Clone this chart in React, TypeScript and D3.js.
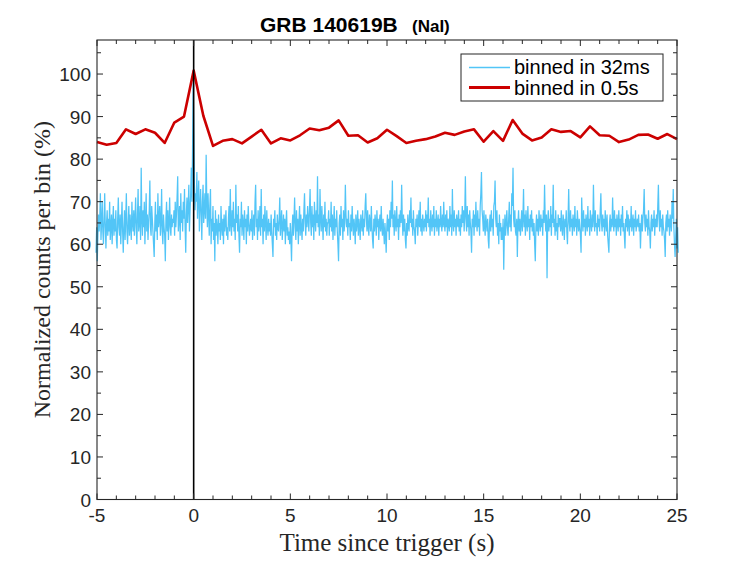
import React from "react";
import * as d3 from "d3";

const width = 747;
const height = 561;
const margin = { top: 40, left: 97, right: 70, bottom: 61.5 };

// tick labels
const xTickLabels = [-5, 0, 5, 10, 15, 20, 25];
const yTickLabels = [0, 10, 20, 30, 40, 50, 60, 70, 80, 90, 100];

// counts binned in 0.5 s, first bin at -5 s
const binned05 = [
  84.0, 83.4, 83.8, 87.0, 85.9, 87.0, 86.2, 83.8, 88.6, 90.0,
  100.8, 90.2, 83.1, 84.3, 84.7, 83.7, 85.3, 86.9, 83.7, 84.9,
  84.4, 85.6, 87.2, 86.8, 87.4, 89.1, 85.5, 85.6, 83.9, 84.9,
  86.9, 85.4, 83.8, 84.3, 84.7, 85.3, 86.2, 85.7, 86.5, 87.0,
  84.1, 86.6, 84.3, 89.2, 86.0, 84.4, 85.1, 87.0, 86.4, 86.6,
  85.1, 87.7, 85.6, 85.5, 84.0, 84.6, 85.7, 85.8, 84.8, 85.9,
  84.7,
];

// counts binned in 32 ms, first bin at -5.05 s
const binned32 = [
  58, 64, 56, 62, 67, 63, 66, 72, 61, 65, 70, 63, 60, 66, 72, 64, 59, 65, 68, 62, 66, 63, 70, 61, 64, 67, 60, 65, 69, 62, 66,
  63, 68, 61, 59, 66, 71, 64, 62, 67, 60, 65, 70, 63, 58, 64, 68, 61, 66, 72, 63, 60, 65, 69, 62, 67, 64, 61, 70, 65, 63, 68,
  62, 66, 71, 64, 60, 67, 73, 63, 65, 69, 61, 78, 66, 62, 68, 64, 70, 60, 66, 72, 63, 67, 61, 65, 68, 75, 64, 62, 69, 66, 63,
  60, 57, 65, 70, 63, 67, 61, 72, 64, 66, 69, 62, 65, 73, 63, 60, 67, 64, 62, 56, 66, 70, 63, 68, 61, 65, 71, 64, 62, 67, 64, 66,
  65, 68, 62, 70, 64, 67, 71, 76, 63, 66, 69, 61, 72, 65, 68, 63, 70, 66, 73, 64, 58, 67, 71, 65, 69, 74, 63, 68, 72, 78, 70,
  82, 98, 86, 74, 68, 72, 70, 77, 66, 71, 75, 63, 69, 73, 67, 61, 70, 74, 65, 68, 72, 66, 81, 70, 64, 72, 67, 62, 69, 73, 60,
  66, 63, 69, 61, 65, 56, 68, 62, 66, 64, 60, 67, 63, 65, 61, 69, 64, 62, 66, 60, 67, 63, 65, 68, 62, 64, 61, 66, 69, 63, 73,
  65, 62, 68, 64, 70, 63, 66, 61, 74, 65, 67, 63, 69, 62, 58, 66, 64, 70, 62, 67, 65, 61, 68, 64, 66, 60, 67, 63, 69, 65, 62, 64,
  66, 63, 68, 61, 65, 67, 62, 70, 74, 64, 66, 61, 68, 63, 65, 69, 62, 73, 64, 66, 60, 67, 63, 69, 65, 61, 68, 64, 62, 66, 63,
  65, 62, 67, 63, 60, 57, 66, 64, 68, 62, 65, 61, 67, 64, 63, 66, 71, 62, 65, 68, 61, 64, 67, 63, 66, 60, 65, 68, 62, 64, 61,
  63, 60, 65, 61, 56, 64, 67, 62, 66, 71, 64, 61, 68, 63, 66, 60, 65, 69, 62, 67, 64, 61, 66, 63, 68, 72, 65, 62, 67, 64, 69,
  66, 63, 68, 73, 65, 62, 69, 64, 67, 61, 70, 66, 63, 68, 65, 76, 64, 67, 62, 73, 66, 63, 69, 65, 61, 67, 64, 70, 63, 66, 62, 65,
  65, 68, 62, 66, 64, 70, 63, 67, 61, 65, 69, 62, 66, 64, 68, 63, 60, 56, 65, 67, 62, 69, 64, 66, 61, 68, 63, 65, 74, 67, 64,
  66, 62, 68, 64, 65, 61, 67, 63, 69, 65, 62, 66, 64, 60, 67, 63, 65, 68, 62, 66, 64, 61, 67, 65, 63, 68, 62, 66, 64, 69, 72,
  66, 63, 68, 64, 62, 67, 65, 63, 69, 64, 61, 59, 66, 63, 67, 65, 62, 68, 64, 66, 61, 65, 67, 63, 69, 64, 62, 66, 63, 60, 65,
  62, 58, 64, 67, 63, 66, 61, 68, 64, 70, 66, 75, 64, 67, 62, 68, 65, 63, 69, 64, 66, 61, 67, 64, 68, 65, 74, 66, 62, 67, 63, 66,
  61, 59, 65, 62, 67, 64, 63, 68, 65, 71, 64, 66, 62, 68, 64, 63, 60, 66, 64, 67, 62, 65, 68, 64, 70, 63, 66, 62, 67, 65, 63,
  66, 64, 68, 63, 67, 65, 71, 64, 66, 62, 68, 65, 63, 67, 64, 69, 62, 66, 64, 68, 63, 65, 67, 62, 66, 64, 69, 65, 63, 67, 64,
  70, 65, 63, 67, 64, 68, 62, 66, 65, 63, 69, 64, 67, 62, 73, 65, 63, 68, 64, 66, 62, 67, 65, 64, 68, 63, 66, 62, 67, 64, 69,
  65, 68, 63, 67, 76, 66, 63, 69, 64, 67, 62, 68, 65, 63, 58, 66, 64, 68, 62, 67, 64, 70, 65, 63, 68, 64, 66, 62, 69, 72, 77, 68,
  66, 63, 68, 64, 62, 67, 65, 63, 66, 61, 59, 65, 67, 63, 68, 64, 66, 62, 69, 70, 75, 66, 64, 68, 62, 65, 60, 67, 63, 65, 61,
  64, 61, 66, 54, 63, 67, 62, 65, 68, 64, 62, 66, 70, 64, 67, 63, 72, 69, 78, 66, 64, 68, 63, 62, 66, 57, 65, 68, 63, 66, 62,
  65, 68, 63, 66, 73, 64, 67, 62, 68, 65, 63, 69, 64, 66, 61, 67, 64, 68, 63, 66, 62, 65, 60, 56, 64, 67, 63, 66, 62, 68, 65,
  63, 67, 64, 66, 62, 68, 65, 74, 66, 63, 67, 52, 65, 68, 63, 66, 64, 69, 62, 67, 65, 74, 64, 66, 62, 68, 63, 65, 61, 67, 64, 66,
  66, 63, 68, 64, 62, 67, 65, 61, 66, 64, 68, 63, 60, 66, 73, 65, 63, 68, 64, 66, 62, 67, 65, 63, 69, 64, 66, 62, 68, 65, 63,
  66, 64, 62, 58, 71, 66, 63, 68, 64, 66, 62, 67, 65, 63, 69, 64, 66, 62, 68, 65, 63, 67, 64, 74, 66, 63, 68, 64, 65, 62, 67,
  64, 66, 63, 68, 72, 65, 63, 67, 64, 66, 62, 68, 65, 63, 67, 62, 60, 58, 65, 67, 63, 66, 64, 71, 65, 63, 68, 64, 66, 62, 67,
  65, 63, 68, 64, 66, 62, 67, 64, 69, 63, 65, 62, 59, 66, 64, 68, 63, 67, 65, 62, 66, 64, 69, 63, 65, 67, 62, 66, 64, 68, 63, 65,
  66, 64, 67, 63, 65, 59, 64, 67, 63, 66, 68, 73, 65, 63, 67, 64, 66, 62, 68, 64, 63, 59, 65, 67, 63, 66, 64, 68, 62, 66, 64,
  67, 64, 69, 74, 66, 63, 68, 64, 66, 62, 67, 64, 63, 61, 57, 65, 67, 63, 68, 64, 66, 62, 67, 65, 63, 70, 66, 73, 64, 60, 57,
  62, 66, 59, 64, 58,
];

const axisColor = "#262626";
const sans = "'Liberation Sans', Arial, Helvetica, sans-serif";
const serif = "'Liberation Serif', 'Times New Roman', serif";

const App = () => {
  const x = d3
    .scaleLinear()
    .domain([-5, 25])
    .range([margin.left, width - margin.right]);
  const y = d3
    .scaleLinear()
    .domain([0, 108])
    .range([height - margin.bottom, margin.top]);

  const t05 = binned05.map((_, i) => -5 + 0.5 * i);
  const t32 = binned32.map((_, i) => -5.05 + 0.032 * i);

  const line = d3
    .line<[number, number]>()
    .x((d) => x(d[0]))
    .y((d) => y(d[1]));

  const x0 = x(-5);
  const x1 = x(25);
  const y0 = y(0);
  const y1 = y(108);

  const xMinor = d3.range(-5, 26, 1);
  const yMinor = d3.range(0, 108, 5);

  return (
    <svg
      width={width}
      height={height}
      style={{ position: "absolute", left: 0, top: 0, background: "#fff" }}
    >
      {/* data */}
      <path
        d={line(t32.map((t, i) => [t, binned32[i]]) as [number, number][]) || ""}
        fill="none"
        stroke="#52C5F7"
        strokeWidth={1.25}
      />
      <path
        d={line(t05.map((t, i) => [t, binned05[i]]) as [number, number][]) || ""}
        fill="none"
        stroke="#CC0000"
        strokeWidth={2.6}
        strokeLinejoin="round"
      />
      {/* trigger */}
      <line x1={x(0)} x2={x(0)} y1={y0} y2={y1} stroke="#000" strokeWidth={1.6} />

      {/* axes box */}
      <rect
        x={x0}
        y={y1}
        width={x1 - x0}
        height={y0 - y1}
        fill="none"
        stroke={axisColor}
        strokeWidth={1.1}
      />
      {xMinor.map((v) => {
        const len = v % 5 === 0 ? 6 : 4;
        return (
          <g key={"xt" + v}>
            <line x1={x(v)} x2={x(v)} y1={y0} y2={y0 - len} stroke={axisColor} />
            <line x1={x(v)} x2={x(v)} y1={y1} y2={y1 + len} stroke={axisColor} />
          </g>
        );
      })}
      {yMinor.map((v) => {
        const len = v % 10 === 0 ? 6 : 4;
        return (
          <g key={"yt" + v}>
            <line x1={x0} x2={x0 + len} y1={y(v)} y2={y(v)} stroke={axisColor} />
            <line x1={x1} x2={x1 - len} y1={y(v)} y2={y(v)} stroke={axisColor} />
          </g>
        );
      })}
      {xTickLabels.map((v) => (
        <text
          key={"xl" + v}
          x={x(v)}
          y={y0 + 22}
          textAnchor="middle"
          fontFamily={sans}
          fontSize={19}
          fill={axisColor}
        >
          {v}
        </text>
      ))}
      {yTickLabels.map((v) => (
        <text
          key={"yl" + v}
          x={x0 - 6}
          y={y(v) + 7}
          textAnchor="end"
          fontFamily={sans}
          fontSize={19}
          fill={axisColor}
        >
          {v}
        </text>
      ))}

      {/* labels */}
      <text
        x={(x0 + x1) / 2}
        y={551}
        textAnchor="middle"
        fontFamily={serif}
        fontSize={25}
        fill={axisColor}
      >
        Time since trigger (s)
      </text>
      <text
        transform={`translate(50, ${(y0 + y1) / 2}) rotate(-90)`}
        textAnchor="middle"
        fontFamily={serif}
        fontSize={24}
        fill={axisColor}
      >
        Normalized counts per bin (%)
      </text>
      <text x={260} y={32} fontFamily={sans} fontWeight="bold" fontSize={21} fill="#000">
        GRB 140619B
      </text>
      <text x={412} y={32} fontFamily={sans} fontWeight="bold" fontSize={17} fill="#000">
        (NaI)
      </text>

      {/* legend */}
      <rect x={461} y={54} width={202} height={47} fill="#fff" stroke={axisColor} strokeWidth={1} />
      <line x1={469} x2={510} y1={67.5} y2={67.5} stroke="#52C5F7" strokeWidth={1.5} />
      <text x={514} y={74} fontFamily={sans} fontSize={20} fill="#000">
        binned in 32ms
      </text>
      <line x1={469} x2={510} y1={87.5} y2={87.5} stroke="#CC0000" strokeWidth={3} />
      <text x={514} y={94.5} fontFamily={sans} fontSize={20} fill="#000">
        binned in 0.5s
      </text>
    </svg>
  );
};

export default App;
